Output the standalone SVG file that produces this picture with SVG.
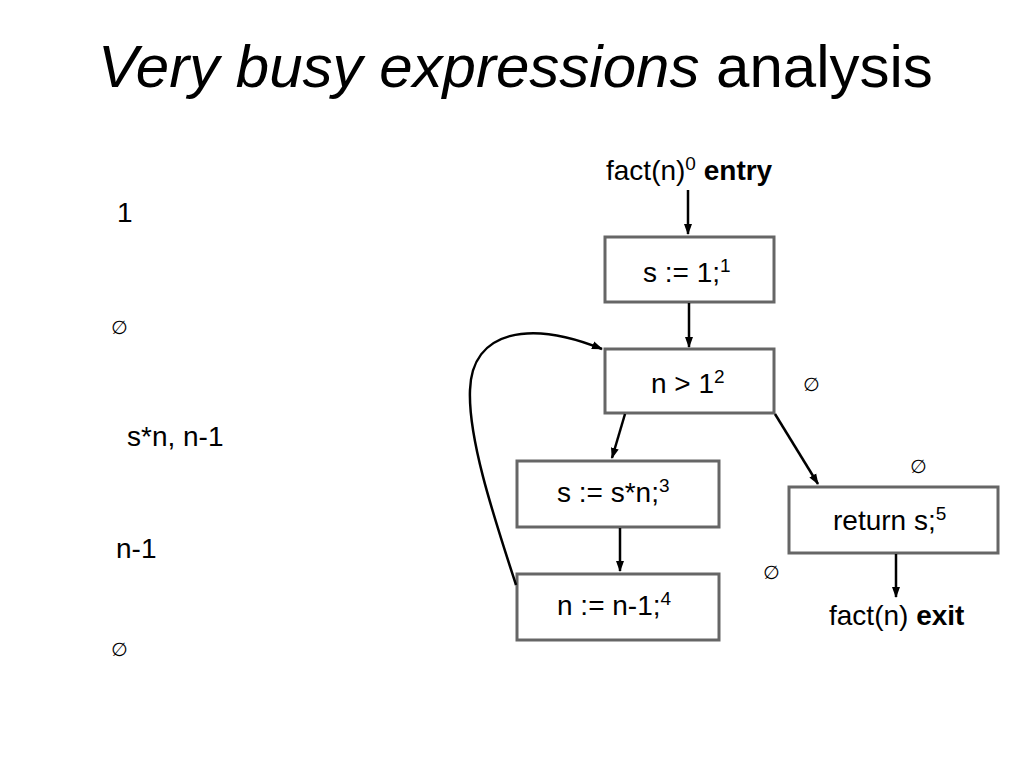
<svg xmlns="http://www.w3.org/2000/svg" width="1024" height="768" viewBox="0 0 1024 768">
<defs>
<marker id="ah" markerWidth="12" markerHeight="12" refX="10" refY="6" orient="auto" markerUnits="userSpaceOnUse">
<path d="M0,2 L11,6 L0,10 z" fill="#000"/>
</marker>
<style>
.t{font-family:"Liberation Sans",Arial,sans-serif;fill:#000}
.box{fill:#fff;stroke:#666;stroke-width:3}
.c{fill:none;stroke:#000;stroke-width:2.5;marker-end:url(#ah)}
.e{font-family:"DejaVu Sans",sans-serif;font-size:19px;fill:#000}
.lb{font-size:28px}
.sup{font-size:19px}
</style>
</defs>
<rect width="1024" height="768" fill="#fff"/>
<text class="t" x="98" y="87" font-size="60"><tspan font-style="italic">Very busy expressions</tspan> analysis</text>

<g id="left-labels">
<text class="t lb" x="117" y="222">1</text>
<text class="e" x="111" y="334">∅</text>
<text class="t lb" x="127" y="446">s*n, n-1</text>
<text class="t lb" x="116" y="558">n-1</text>
<text class="e" x="111" y="656">∅</text>
</g>

<g id="entry"><text class="t lb" x="606" y="180">fact(n)<tspan class="sup" dy="-10">0</tspan><tspan dy="10" font-weight="bold"> entry</tspan></text></g>
<g id="n1"><rect class="box" x="605" y="237" width="169" height="65"/><text class="t lb" x="643" y="282">s := 1;<tspan class="sup" dy="-10">1</tspan></text></g>
<g id="n2"><rect class="box" x="605" y="349" width="169" height="64"/><text class="t lb" x="651" y="393">n &gt; 1<tspan class="sup" dy="-10">2</tspan></text></g>
<g id="n3"><rect class="box" x="517" y="461" width="202" height="66"/><text class="t lb" x="557" y="502">s := s*n;<tspan class="sup" dy="-10">3</tspan></text></g>
<g id="n4"><rect class="box" x="517" y="574" width="202" height="66"/><text class="t lb" x="557" y="615">n := n-1;<tspan class="sup" dy="-10">4</tspan></text></g>
<g id="n5"><rect class="box" x="789" y="487" width="209" height="66"/><text class="t lb" x="833" y="530">return s;<tspan class="sup" dy="-10">5</tspan></text></g>
<g id="exit"><text class="t lb" x="829" y="625">fact(n) <tspan font-weight="bold">exit</tspan></text></g>

<g id="sets">
<text class="e" x="803" y="391">∅</text>
<text class="e" x="910" y="473">∅</text>
<text class="e" x="763" y="579">∅</text>
</g>

<g id="connectors">
<line class="c" x1="688" y1="190" x2="688" y2="234"/>
<line class="c" x1="689" y1="303" x2="689" y2="347"/>
<line class="c" x1="625" y1="414" x2="612" y2="458"/>
<line class="c" x1="775" y1="414" x2="818" y2="484"/>
<line class="c" x1="620" y1="528" x2="620" y2="571"/>
<line class="c" x1="896" y1="554" x2="896" y2="597"/>
<path class="c" d="M516,585 C495,520 468,440 470,390 C472,330 530,320 602,349"/>
</g>
</svg>
